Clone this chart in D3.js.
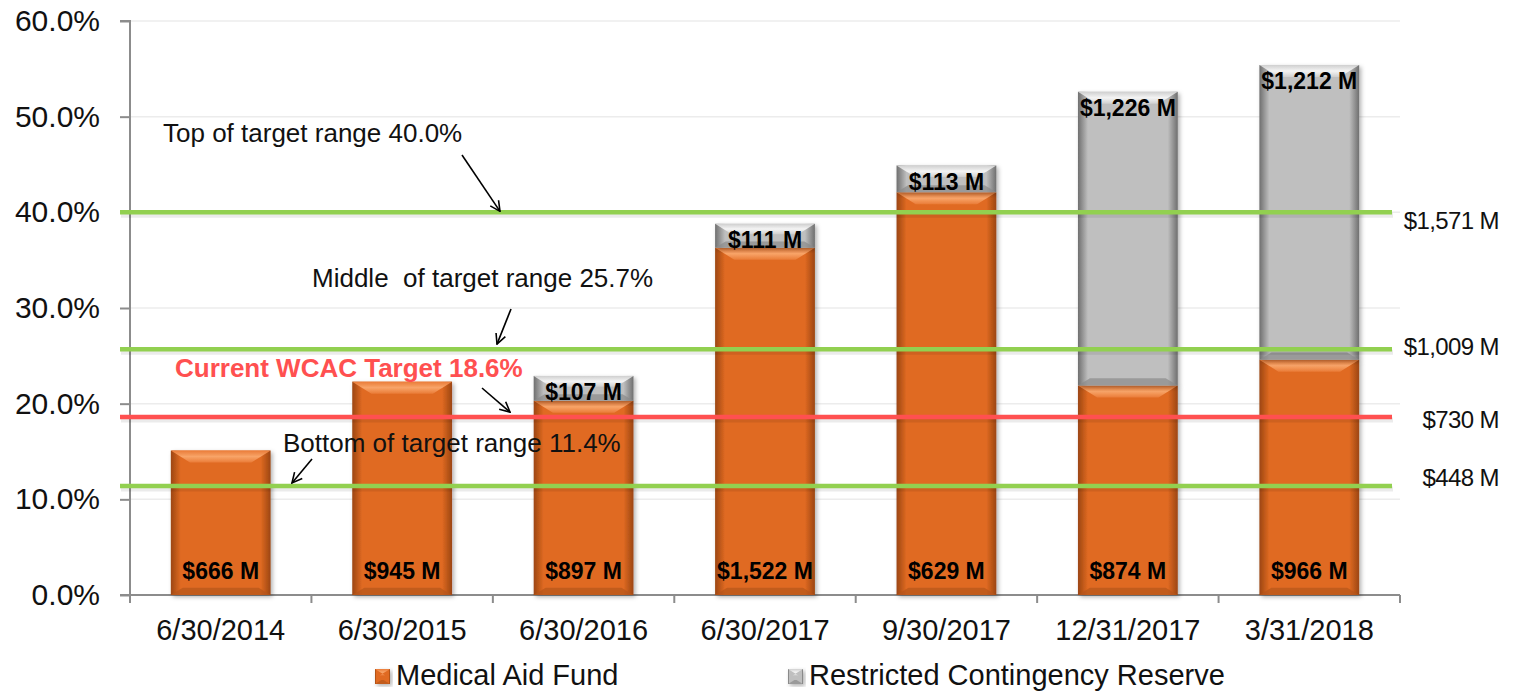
<!DOCTYPE html>
<html>
<head>
    <script src="https://d3js.org/d3.v7.min.js"></script>
    <style>
        body { margin: 0; background: #fff; }
        svg { display: block; font-family: "Liberation Sans", Arial, Helvetica, sans-serif; }
    </style>
</head>
<body>
    <svg width="1519" height="693"></svg>
    <script>
        // Chart data (share of target, %)
        const categories = ["6/30/2014", "6/30/2015", "6/30/2016", "6/30/2017", "9/30/2017", "12/31/2017", "3/31/2018"];
        const medicalAidPct = [15.1, 22.3, 20.3, 36.3, 42.1, 21.9, 24.6];
        const reservePct = [0, 0, 2.6, 2.5, 2.8, 30.7, 30.8];
        const medicalAidLabels = ["$666 M", "$945 M", "$897 M", "$1,522 M", "$629 M", "$874 M", "$966 M"];
        const reserveLabels = ["", "", "$107 M", "$111 M", "$113 M", "$1,226 M", "$1,212 M"];
        const yTicks = [0, 10, 20, 30, 40, 50, 60];
        const seriesNames = ["Medical Aid Fund", "Restricted Contingency Reserve"];

        // Target reference lines
        const targetLevels = [40.0, 25.7, 18.6, 11.4];
        const targetNames = ["Top of target range 40.0%", "Middle  of target range 25.7%", "Current WCAC Target 18.6%", "Bottom of target range 11.4%"];
        const targetAmounts = ["$1,571 M", "$1,009 M", "$730 M", "$448 M"];

        // Layout of the callouts (text position + arrow start/end in pixels)
        const noteLayout = [
            { tx: 163, ty: 142, x1: 462, y1: 155, x2: 500, dy2: -1 },
            { tx: 312, ty: 287, x1: 511, y1: 309, x2: 497, dy2: -5 },
            { tx: 175, ty: 377, x1: 482, y1: 388, x2: 510, dy2: -5 },
            { tx: 283, ty: 452, x1: 312, y1: 459, x2: 292, dy2: -3 }
        ];
        const amountDy = [10, 0, 5, -6];

        const svg = d3.select("svg");
        const x = d3.scaleBand().domain(categories).range([130, 1400]).paddingInner(0.45).paddingOuter(0.225);
        const y = d3.scaleLinear().domain([0, 60]).range([595, 21]);

        const defs = svg.append("defs");
        defs.append("filter").attr("id", "shadow").attr("x", "-10%").attr("y", "-10%").attr("width", "130%").attr("height", "130%")
            .append("feDropShadow").attr("dx", 2).attr("dy", 2).attr("stdDeviation", 2)
            .attr("flood-color", "#000").attr("flood-opacity", 0.3);

        // bevel colours for each series
        const styles = [
            { id: "org", dark: "#9c4612", base: "#e06a22", light: "#f8a468", lightEnd: "#ea7c38", bottom: "#b5561b" },
            { id: "gry", dark: "#6f6f6f", base: "#bfbfbf", light: "#f4f4f4", lightEnd: "#cfcfcf", bottom: "#8a8a8a" }
        ];
        styles.forEach(s => {
            const g = defs.append("linearGradient").attr("id", s.id + "Side").attr("x1", 0).attr("x2", 1).attr("y1", 0).attr("y2", 0);
            [[0, s.dark], [0.1, s.base], [0.9, s.base], [1, s.dark]].forEach(d =>
                g.append("stop").attr("offset", d[0]).attr("stop-color", d[1]));
            const t = defs.append("linearGradient").attr("id", s.id + "Top").attr("x1", 0).attr("x2", 0).attr("y1", 0).attr("y2", 1);
            [[0, s.lightEnd], [0.5, s.light], [1, s.lightEnd]].forEach(d =>
                t.append("stop").attr("offset", d[0]).attr("stop-color", d[1]));
        });

        function bevelBox(g, bx, by, w, h, s) {
            const b = Math.min(12, h / 2.3);
            const grp = g.append("g").attr("filter", "url(#shadow)");
            grp.append("rect").attr("x", bx).attr("y", by).attr("width", w).attr("height", h)
                .attr("fill", "url(#" + s.id + "Side)");
            grp.append("polygon")
                .attr("points", [[bx, by], [bx + w, by], [bx + w - b * 1.6, by + b], [bx + b * 1.6, by + b]].join(" "))
                .attr("fill", "url(#" + s.id + "Top)");
            grp.append("polygon")
                .attr("points", [[bx, by + h], [bx + w, by + h], [bx + w - b, by + h - b * 0.6], [bx + b, by + h - b * 0.6]].join(" "))
                .attr("fill", s.bottom).attr("opacity", 0.7);
        }

        // gridlines
        svg.append("g").selectAll("line").data(yTicks.slice(1)).join("line")
            .attr("x1", 130).attr("x2", 1400)
            .attr("y1", d => y(d)).attr("y2", d => y(d))
            .attr("stroke", "#ececec").attr("stroke-width", 1.5);

        // y axis
        const yAxis = svg.append("g").attr("transform", "translate(130,0)")
            .call(d3.axisLeft(y).tickValues(yTicks).tickSize(10).tickPadding(20).tickFormat(d => d.toFixed(1) + "%"));
        yAxis.selectAll("path, line").attr("stroke", "#8c8c8c").attr("stroke-width", 2);
        yAxis.select(".domain").attr("d", "M-10," + y(60) + "H0V" + y(0) + "H-10");
        yAxis.selectAll("text").attr("font-size", 30).attr("fill", "#111").attr("font-family", "Liberation Sans, Arial, sans-serif");

        // x axis
        const xAxis = svg.append("g").attr("transform", "translate(0," + y(0) + ")")
            .call(d3.axisBottom(x).tickSize(0).tickPadding(24));
        xAxis.select(".domain").attr("stroke", "#8c8c8c").attr("stroke-width", 2).attr("d", "M130,0H1400");
        xAxis.selectAll("text").attr("font-size", 29).attr("fill", "#111").attr("font-family", "Liberation Sans, Arial, sans-serif");
        const boundaries = categories.map(c => x(c) - x.step() * x.paddingInner() / 2).concat([1400]);
        xAxis.append("g").selectAll("line").data(boundaries).join("line")
            .attr("x1", d => d).attr("x2", d => d).attr("y1", 0).attr("y2", 8)
            .attr("stroke", "#8c8c8c").attr("stroke-width", 2);

        // stacked bars
        const bars = svg.append("g");
        categories.forEach((c, i) => {
            const m = medicalAidPct[i], r = reservePct[i];
            bevelBox(bars, x(c), y(m), x.bandwidth(), y(0) - y(m), styles[0]);
            if (r > 0) bevelBox(bars, x(c), y(m + r), x.bandwidth(), y(m) - y(m + r), styles[1]);
        });

        // target lines, with a soft shadow line underneath
        const targets = svg.append("g");
        targets.selectAll("line.shade").data(targetLevels).join("line").attr("class", "shade")
            .attr("x1", 121).attr("x2", 1393)
            .attr("y1", d => y(d) + 3).attr("y2", d => y(d) + 3)
            .attr("stroke", "#000").attr("stroke-opacity", 0.08).attr("stroke-width", 5);
        targets.selectAll("line.target").data(targetLevels).join("line").attr("class", "target")
            .attr("x1", 120).attr("x2", 1392)
            .attr("y1", d => y(d)).attr("y2", d => y(d))
            .attr("stroke", (d, i) => i === 2 ? "#ff5050" : "#92d050")
            .attr("stroke-width", 4.5);

        // dollar amounts at right of the target lines
        svg.append("g").selectAll("text").data(targetAmounts).join("text")
            .attr("x", 1499).attr("y", (d, i) => y(targetLevels[i]) + amountDy[i])
            .attr("text-anchor", "end").attr("dominant-baseline", "middle")
            .attr("font-size", 24).attr("letter-spacing", -0.6).attr("fill", "#111").text(d => d);

        // bar value labels
        const labels = svg.append("g").attr("font-weight", "bold").attr("font-size", 23).attr("fill", "#000")
            .attr("text-anchor", "middle").attr("dominant-baseline", "middle");
        labels.selectAll("text.maf").data(categories).join("text").attr("class", "maf")
            .attr("x", d => x(d) + x.bandwidth() / 2).attr("y", y(0) - 22)
            .text((d, i) => medicalAidLabels[i]);
        labels.selectAll("text.rcr").data(categories.filter((d, i) => reservePct[i] > 0)).join("text").attr("class", "rcr")
            .attr("x", d => x(d) + x.bandwidth() / 2)
            .attr("y", d => { const i = categories.indexOf(d); return y(medicalAidPct[i] + reservePct[i]) + 18; })
            .text(d => reserveLabels[categories.indexOf(d)]);

        // callouts
        defs.append("marker").attr("id", "arrow").attr("viewBox", "0 0 12 12").attr("refX", 11).attr("refY", 6)
            .attr("markerWidth", 12).attr("markerHeight", 12).attr("markerUnits", "userSpaceOnUse").attr("orient", "auto")
            .append("path").attr("d", "M1,1 L11,6 L1,11").attr("fill", "none").attr("stroke", "#000").attr("stroke-width", 1.6);
        const notes = svg.append("g");
        noteLayout.forEach((n, i) => {
            notes.append("text").attr("x", n.tx).attr("y", n.ty)
                .attr("font-size", 26).attr("font-weight", i === 2 ? "bold" : "normal")
                .attr("fill", i === 2 ? "#ff5050" : "#111")
                .attr("xml:space", "preserve").style("white-space", "pre")
                .text(targetNames[i]);
            notes.append("line").attr("x1", n.x1).attr("y1", n.y1).attr("x2", n.x2).attr("y2", y(targetLevels[i]) + n.dy2)
                .attr("stroke", "#000").attr("stroke-width", 1.6).attr("marker-end", "url(#arrow)");
        });

        // legend
        const legendX = [375, 788];
        const legend = svg.append("g");
        seriesNames.forEach((name, i) => {
            bevelBox(legend, legendX[i], 669, 15, 15, styles[i]);
            legend.append("text").attr("x", legendX[i] + 21).attr("y", 677)
                .attr("dominant-baseline", "middle").attr("font-size", 29).attr("fill", "#111").text(name);
        });
    </script>
</body>
</html>
